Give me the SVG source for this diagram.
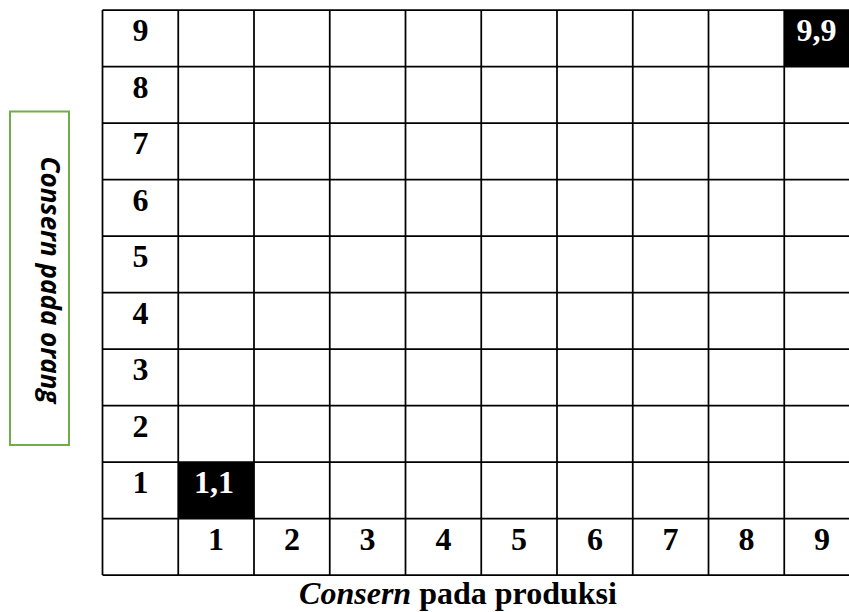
<svg xmlns="http://www.w3.org/2000/svg" width="849" height="612" viewBox="0 0 849 612">
  <style>
    .grid { stroke: #000; stroke-width: 1.75; fill: none; }
    .lbl { font-family: "Liberation Serif", "Times New Roman", serif; font-weight: bold; font-size: 32px; fill: #000; text-anchor: middle; }
    .inv { fill: #fff; }
    .cell-black { fill: #000; }
    .side-box { fill: #fff; stroke: #70AD47; stroke-width: 2; }
    .side-txt { font-family: "Open Sans", "Liberation Sans", sans-serif; font-weight: bold; font-style: italic; font-size: 26px; fill: #000; text-anchor: middle; }
    .cap { font-family: "Liberation Serif", "Times New Roman", serif; font-weight: bold; font-size: 32px; fill: #000; text-anchor: middle; }
  </style>
  <rect width="849" height="612" fill="#fff"/>

  <g id="black-cells">
    <rect class="cell-black" x="178.25" y="462" width="75.75" height="56.5"/>
    <rect class="cell-black" x="784.25" y="10" width="75.75" height="56.5"/>
  </g>

  <g id="grid">
    <path class="grid" d="M102.5 10V575 M178.25 10V575 M254 10V575 M329.75 10V575 M405.5 10V575 M481.25 10V575 M557 10V575 M632.75 10V575 M708.5 10V575 M784.25 10V575 M860 10V575"/>
    <path class="grid" d="M102.5 10H860 M102.5 66.5H860 M102.5 123H860 M102.5 179.5H860 M102.5 236H860 M102.5 292.5H860 M102.5 349H860 M102.5 405.5H860 M102.5 462H860 M102.5 518.5H860 M102.5 575H860"/>
  </g>

  <g id="row-labels">
    <text class="lbl" x="140.4" y="41">9</text>
    <text class="lbl" x="140.4" y="97.5">8</text>
    <text class="lbl" x="140.4" y="154">7</text>
    <text class="lbl" x="140.4" y="210.5">6</text>
    <text class="lbl" x="140.4" y="267">5</text>
    <text class="lbl" x="140.4" y="323.5">4</text>
    <text class="lbl" x="140.4" y="380">3</text>
    <text class="lbl" x="140.4" y="436.5">2</text>
    <text class="lbl" x="140.4" y="493">1</text>
  </g>

  <g id="col-labels">
    <text class="lbl" x="216.1" y="549.5">1</text>
    <text class="lbl" x="291.9" y="549.5">2</text>
    <text class="lbl" x="367.6" y="549.5">3</text>
    <text class="lbl" x="443.4" y="549.5">4</text>
    <text class="lbl" x="519.1" y="549.5">5</text>
    <text class="lbl" x="594.9" y="549.5">6</text>
    <text class="lbl" x="670.6" y="549.5">7</text>
    <text class="lbl" x="746.4" y="549.5">8</text>
    <text class="lbl" x="822.1" y="549.5">9</text>
  </g>

  <g id="cell-values">
    <text class="lbl inv" x="214" y="493">1,1</text>
    <text class="lbl inv" x="816.5" y="41">9,9</text>
  </g>

  <g id="y-axis-label">
    <rect class="side-box" x="10" y="111.5" width="59" height="333.5"/>
    <text class="side-txt" transform="translate(41 280) rotate(90)">Consern pada orang</text>
  </g>

  <g id="x-axis-label">
    <text class="cap" x="458" y="604"><tspan font-style="italic">Consern</tspan> pada produksi</text>
  </g>
</svg>
